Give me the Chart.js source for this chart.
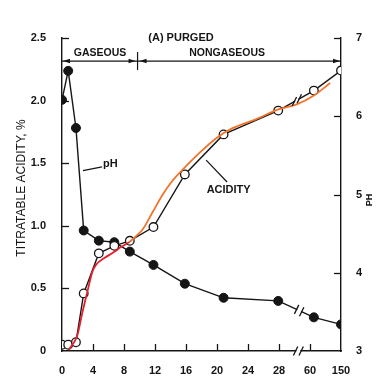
<!DOCTYPE html>
<html><head><meta charset="utf-8">
<script src="https://cdn.jsdelivr.net/npm/chart.js@4.4.1/dist/chart.umd.min.js"></script>
<style>html,body{margin:0;padding:0;background:#fff;}#wrap{width:392px;height:380px;}</style>
</head><body><div id="wrap"><canvas id="c" width="392" height="380"></canvas></div>
<script>
// ---- data ----
const days = [0, 0.8, 1.8, 2.8, 4.75, 6.75, 8.75, 11.8, 15.85, 20.85, 27.9, 32.5, 36];
const phValues = [6.21, 6.58, 5.85, 4.54, 4.41, 4.39, 4.27, 4.10, 3.86, 3.68, 3.64, 3.43, 3.34];
const acidityValues = [0.05, 0.05, 0.07, 0.46, 0.78, 0.84, 0.88, 0.99, 1.41, 1.73, 1.92, 2.08, 2.24];
const redX = [0.9, 2.0, 2.6, 3.3, 3.9, 4.4, 5.4, 6.7, 7.6, 8.7];
const redY = [0.01, 0.13, 0.30, 0.48, 0.63, 0.69, 0.74, 0.79, 0.83, 0.87];
const orangeX = [8.7, 9.6, 10.4, 11.7, 13, 14, 15.6, 17.7, 19.9, 22, 25, 27.9, 30.3, 32.5, 34.6];
const orangeY = [0.87, 0.92, 0.97, 1.11, 1.25, 1.34, 1.45, 1.58, 1.70, 1.78, 1.85, 1.93, 1.97, 2.04, 2.14];
const xTickValues = [0, 4, 8, 12, 16, 20, 24, 28, 32, 36];
const xTickLabels = ['0', '4', '8', '12', '16', '20', '24', '28', '60', '150'];
const breakX = 30.5;      // axis break position (between 28 and 60)
const gasDividerX = 9.75; // gaseous / nongaseous boundary

const FONT = '"Liberation Sans", Arial, sans-serif';
const INK = '#151515';
const pts = (xs, ys) => xs.map((x, i) => ({x, y: ys[i]}));

function interpPixel(chart, xs, ys, xv, scaleId) {
  const sx = chart.scales.x, sy = chart.scales[scaleId];
  for (let i = 0; i < xs.length - 1; i++) {
    if (xv >= xs[i] && xv <= xs[i + 1]) {
      const x1 = sx.getPixelForValue(xs[i]), x2 = sx.getPixelForValue(xs[i + 1]);
      const y1 = sy.getPixelForValue(ys[i]), y2 = sy.getPixelForValue(ys[i + 1]);
      const t = (xv - xs[i]) / (xs[i + 1] - xs[i]);
      return {x: x1 + (x2 - x1) * t, y: y1 + (y2 - y1) * t, ang: Math.atan2(y2 - y1, x2 - x1)};
    }
  }
}
function drawBreak(ctx, p) {
  ctx.save();
  ctx.translate(p.x, p.y);
  ctx.rotate(p.ang);
  ctx.strokeStyle = '#fff'; ctx.lineWidth = 4;
  ctx.beginPath(); ctx.moveTo(-2, 0); ctx.lineTo(2, 0); ctx.stroke();
  ctx.rotate(-p.ang);
  ctx.strokeStyle = INK; ctx.lineWidth = 1.3;
  for (const d of [-2.8, 2.8]) {
    const dx = d * Math.cos(p.ang), dy = d * Math.sin(p.ang);
    ctx.beginPath(); ctx.moveTo(dx - 2.2, dy + 4.5); ctx.lineTo(dx + 2.2, dy - 4.5); ctx.stroke();
  }
  ctx.restore();
}
function arrowHead(ctx, x, y, dir) {
  ctx.beginPath();
  ctx.moveTo(x, y);
  ctx.lineTo(x - dir * 7, y - 2.2);
  ctx.lineTo(x - dir * 7, y + 2.2);
  ctx.closePath(); ctx.fill();
}

const deco = {
  id: 'deco',
  afterDatasetsDraw(chart) {
    const ctx = chart.ctx;
    drawBreak(ctx, interpPixel(chart, days, acidityValues, 30.3, 'y'));
    drawBreak(ctx, interpPixel(chart, days, phValues, 30.6, 'y2'));
  },
  afterDraw(chart) {
    const ctx = chart.ctx, sx = chart.scales.x, sy = chart.scales.y, s2 = chart.scales.y2;
    const ca = chart.chartArea;
    ctx.save();
    ctx.strokeStyle = INK; ctx.fillStyle = INK; ctx.lineWidth = 1.3;
    // inward tick marks
    sy.ticks.forEach(t => { if (t.value > 0) { const y = Math.round(sy.getPixelForValue(t.value)) + 0.5;
      ctx.beginPath(); ctx.moveTo(ca.left, y); ctx.lineTo(ca.left + 7, y); ctx.stroke(); } });
    s2.ticks.forEach(t => { if (t.value > 3) { const y = Math.round(s2.getPixelForValue(t.value)) + 0.5;
      ctx.beginPath(); ctx.moveTo(ca.right, y); ctx.lineTo(ca.right - 7, y); ctx.stroke(); } });
    sx.ticks.forEach(t => { if (t.value > 0 && t.value < 36) { const x = Math.round(sx.getPixelForValue(t.value)) + 0.5;
      ctx.beginPath(); ctx.moveTo(x, ca.bottom); ctx.lineTo(x, ca.bottom - 7); ctx.stroke(); } });
    // x-axis break
    const bx = sx.getPixelForValue(breakX);
    ctx.fillStyle = '#fff'; ctx.fillRect(bx - 2, ca.bottom - 2, 4, 4);
    ctx.fillStyle = INK;
    for (const d of [-2.8, 2.8]) {
      ctx.beginPath(); ctx.moveTo(bx + d - 2.2, ca.bottom + 4.5); ctx.lineTo(bx + d + 2.2, ca.bottom - 4.5); ctx.stroke();
    }
    // gaseous / nongaseous arrow bar
    const ay = sy.getPixelForValue(2.316);
    const dx = sx.getPixelForValue(gasDividerX);
    ctx.lineWidth = 1.2;
    ctx.beginPath(); ctx.moveTo(ca.left, ay); ctx.lineTo(ca.right, ay); ctx.stroke();
    ctx.beginPath(); ctx.moveTo(dx, ay - 9); ctx.lineTo(dx, ay + 9); ctx.stroke();
    arrowHead(ctx, ca.left + 1, ay, -1);
    arrowHead(ctx, dx - 2, ay, 1);
    arrowHead(ctx, dx + 2, ay, -1);
    arrowHead(ctx, ca.right - 1, ay, 1);
    // texts
    ctx.textAlign = 'center'; ctx.textBaseline = 'middle';
    ctx.font = 'bold 11px ' + FONT;
    ctx.fillText('(A) PURGED', sx.getPixelForValue(15.35), ca.top);
    ctx.font = 'bold 10.5px ' + FONT;
    ctx.fillText('GASEOUS', sx.getPixelForValue(4.9), sy.getPixelForValue(2.38));
    ctx.fillText('NONGASEOUS', sx.getPixelForValue(21.3), sy.getPixelForValue(2.38));
    ctx.font = 'bold 11px ' + FONT;
    ctx.fillText('pH', sx.getPixelForValue(6.25), sy.getPixelForValue(1.49));
    ctx.fillText('ACIDITY', sx.getPixelForValue(21.5), sy.getPixelForValue(1.286));
    ctx.lineWidth = 1.2;
    ctx.beginPath(); ctx.moveTo(sx.getPixelForValue(2.7), sy.getPixelForValue(1.44));
    ctx.lineTo(sx.getPixelForValue(5.16), sy.getPixelForValue(1.47)); ctx.stroke();
    ctx.beginPath(); ctx.moveTo(sx.getPixelForValue(18.6), sy.getPixelForValue(1.525));
    ctx.lineTo(sx.getPixelForValue(21.3), sy.getPixelForValue(1.35)); ctx.stroke();
    // axis titles
    ctx.font = '12px ' + FONT;
    ctx.save(); ctx.translate(22, 188); ctx.rotate(-Math.PI / 2);
    ctx.fillText('TITRATABLE ACIDITY, %', 0, 0); ctx.restore();
    ctx.font = 'bold 9px ' + FONT;
    ctx.save(); ctx.translate(370, 200); ctx.rotate(-Math.PI / 2);
    ctx.fillText('PH', 0, 0); ctx.restore();
    ctx.restore();
  }
};

const tickFont = {family: FONT, size: 11, weight: 'bold'};
new Chart(document.getElementById('c'), {
  type: 'line',
  data: {
    datasets: [
      {label: 'Acidity', data: pts(days, acidityValues), yAxisID: 'y', borderColor: INK, borderWidth: 1.4,
       pointRadius: 4.3, pointBackgroundColor: '#fff', pointBorderColor: INK, pointBorderWidth: 1.3, tension: 0, order: 3},
      {label: 'pH', data: pts(days, phValues), yAxisID: 'y2', borderColor: INK, borderWidth: 1.4,
       pointRadius: 4.5, pointBackgroundColor: INK, pointBorderColor: INK, pointBorderWidth: 1, tension: 0, order: 4},
      {label: 'Acidity fit (gaseous)', data: pts(redX, redY), yAxisID: 'y', borderColor: '#e3202c', borderWidth: 1.8,
       pointRadius: 0, tension: 0.4, cubicInterpolationMode: 'monotone', order: 1},
      {label: 'Acidity fit (nongaseous)', data: pts(orangeX, orangeY), yAxisID: 'y', borderColor: '#f2732a', borderWidth: 1.8,
       pointRadius: 0, tension: 0.4, cubicInterpolationMode: 'monotone', order: 2}
    ]
  },
  options: {
    responsive: false, animation: false, devicePixelRatio: 1,
    layout: {padding: {top: 38, left: 0, right: 0, bottom: 0}},
    plugins: {legend: {display: false}, tooltip: {enabled: false}},
    scales: {
      x: {type: 'linear', min: 0, max: 36,
          afterBuildTicks: s => { s.ticks = xTickValues.map(v => ({value: v})); },
          ticks: {font: tickFont, color: INK, padding: 5, maxRotation: 0, autoSkip: false,
                  callback: v => { const i = xTickValues.indexOf(v); return i >= 0 ? xTickLabels[i] : ''; }},
          grid: {display: false}, border: {display: true, color: INK, width: 1.4},
          afterFit: s => { s.height = 29; }},
      y: {position: 'left', min: 0, max: 2.5,
          ticks: {stepSize: 0.5, font: tickFont, color: INK, padding: 8,
                  callback: v => v === 0 ? '0' : v.toFixed(1)},
          grid: {display: false}, border: {display: true, color: INK, width: 1.4},
          afterFit: s => { s.width = 62; }},
      y2: {position: 'right', min: 3, max: 7,
          ticks: {stepSize: 1, font: tickFont, color: INK, padding: 7},
          grid: {display: false}, border: {display: true, color: INK, width: 1.4},
          afterFit: s => { s.width = 51; }}
    }
  },
  plugins: [deco]
});
</script>
</body></html>
